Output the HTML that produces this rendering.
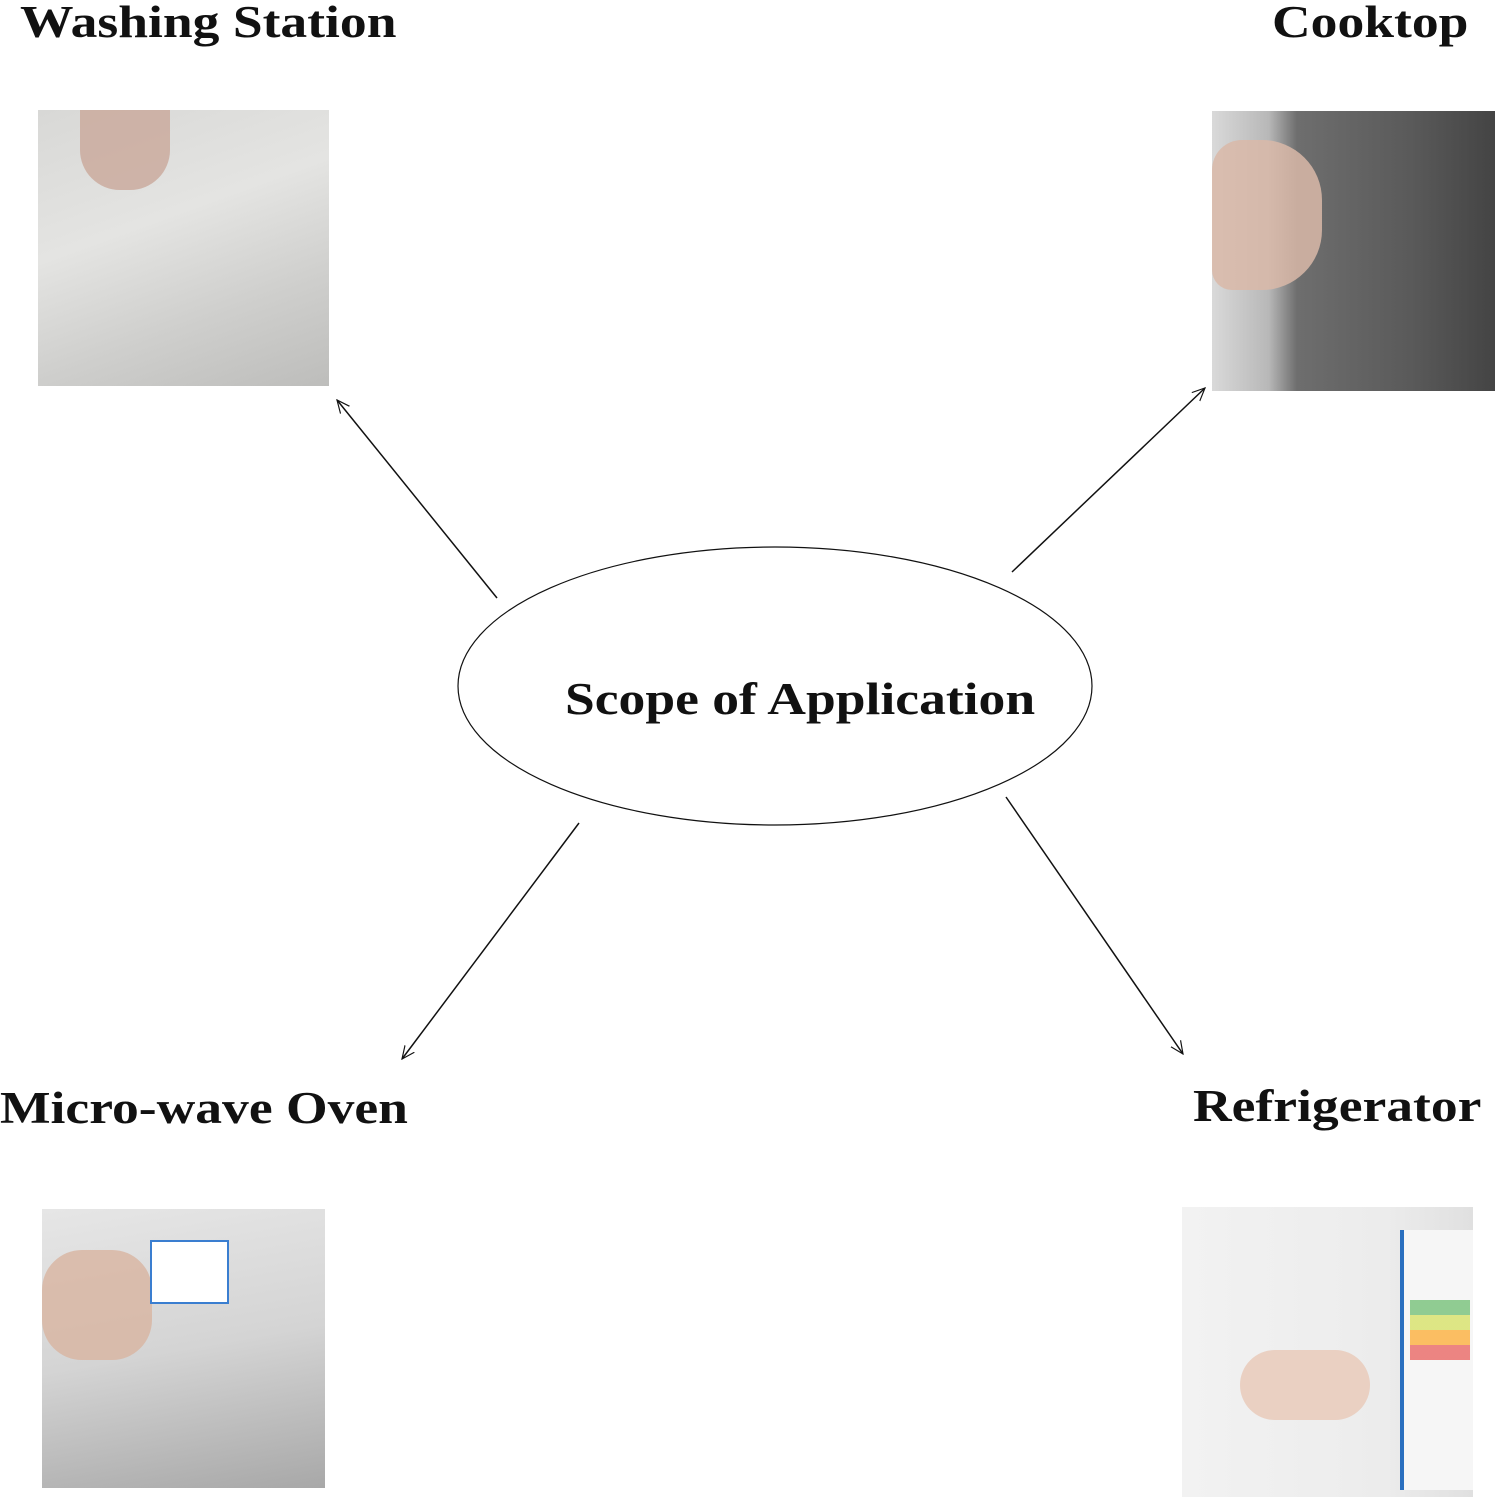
<!DOCTYPE html>
<html><head><meta charset="utf-8"><style>
html,body{margin:0;padding:0;background:#fff;}
body{width:1497px;height:1500px;position:relative;overflow:hidden;font-family:"Liberation Serif",serif;}
.t{position:absolute;font-weight:bold;font-size:45px;color:#111;white-space:nowrap;line-height:1;transform:scaleX(1.19);transform-origin:0 0;}
.p{position:absolute;}
</style></head><body>
<div class="t" style="left:20px;top:0px;">Washing Station</div>
<div class="t" style="left:1272px;top:0px;">Cooktop</div>
<div class="t" style="left:0px;top:1086px;">Micro-wave Oven</div>
<div class="t" style="left:1193px;top:1084px;">Refrigerator</div>
<div class="t" style="left:565px;top:677px;">Scope of Application</div>

<div class="p" style="left:38px;top:110px;width:291px;height:276px;background:linear-gradient(160deg,#d8d8d6 0%,#e4e4e2 40%,#cfcfcd 70%,#bdbdbb 100%);"></div>
<div class="p" style="left:80px;top:110px;width:90px;height:80px;background:#c9a89a;border-radius:0 0 40px 40px;opacity:.8"></div>
<div class="p" style="left:1212px;top:111px;width:283px;height:280px;background:linear-gradient(90deg,#d9d9d9 0%,#b8b8b8 20%,#6e6e6e 30%,#5a5a5a 70%,#444 100%);"></div>
<div class="p" style="left:1212px;top:140px;width:110px;height:150px;background:#d9b8a8;border-radius:30px 60px 60px 20px;opacity:.85"></div>
<div class="p" style="left:42px;top:1209px;width:283px;height:279px;background:linear-gradient(170deg,#e6e6e6 0%,#d4d4d4 50%,#a8a8a8 100%);"></div>
<div class="p" style="left:42px;top:1250px;width:110px;height:110px;background:#d8b4a0;border-radius:40px;opacity:.8"></div>
<div class="p" style="left:150px;top:1240px;width:75px;height:60px;background:#fff;border:2px solid #3a7ed0;"></div>
<div class="p" style="left:1182px;top:1207px;width:291px;height:290px;background:linear-gradient(90deg,#f2f2f2 0%,#ececec 70%,#e0e0e0 100%);"></div>
<div class="p" style="left:1400px;top:1230px;width:69px;height:260px;background:#f6f6f6;border-left:4px solid #2a6fbf;"></div>
<div class="p" style="left:1410px;top:1300px;width:60px;height:60px;background:linear-gradient(180deg,#4caf50 0 25%,#cddc39 25% 50%,#ff9800 50% 75%,#e53935 75%);opacity:.6"></div>
<div class="p" style="left:1240px;top:1350px;width:130px;height:70px;background:#e8c8b6;border-radius:40px;opacity:.8"></div>

<svg class="p" style="left:0;top:0" width="1497" height="1500" viewBox="0 0 1497 1500">
<defs><marker id="a" viewBox="0 0 12 12" refX="11" refY="6" markerWidth="14" markerHeight="14" markerUnits="userSpaceOnUse" orient="auto"><path d="M0,1 L11,6 L0,11" fill="none" stroke="#111" stroke-width="1"/></marker></defs>
<ellipse cx="775" cy="686" rx="317" ry="139" fill="none" stroke="#111" stroke-width="1.2"/>
<g stroke="#111" stroke-width="1.5" marker-end="url(#a)">
<line x1="497" y1="598" x2="337" y2="400"/>
<line x1="1012" y1="572" x2="1205" y2="388"/>
<line x1="579" y1="823" x2="402" y2="1059"/>
<line x1="1006" y1="797" x2="1183" y2="1054"/>
</g>
</svg>
</body></html>
